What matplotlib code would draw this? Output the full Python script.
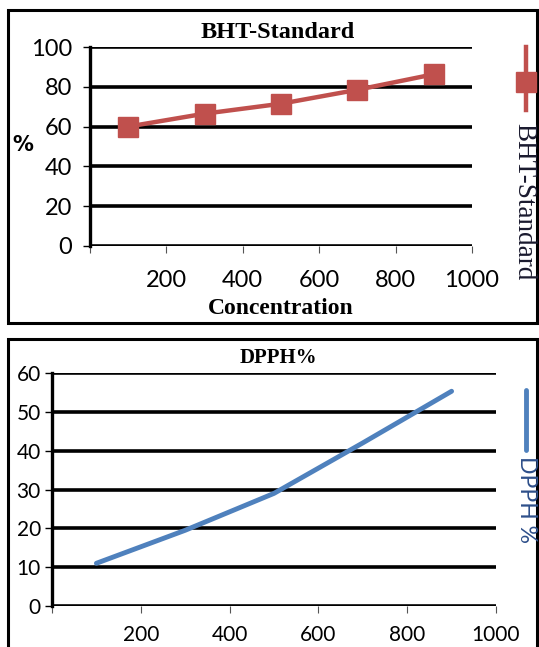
import matplotlib
matplotlib.use('agg')
import matplotlib.pyplot as plt
from matplotlib.lines import Line2D
from matplotlib.patches import Rectangle

# data
conc = [100, 300, 500, 700, 900]
bht = [60, 66.5, 71.5, 78.5, 86.3]
dpph = [11, 19.5, 29, 42, 55.3]

top_yticks = [0, 20, 40, 60, 80, 100]
bot_yticks = [0, 10, 20, 30, 40, 50, 60]
xticks = [0, 200, 400, 600, 800, 1000]
xticklabels = ['', '200', '400', '600', '800', '1000']

red = '#C0504D'
blue = '#4F81BD'
W, H = 539, 647

fig = plt.figure(figsize=(W / 100, H / 100), dpi=100)


def fx(px):
    return px / W


def fy(py):
    return 1 - py / H


def style_axes(ax, yticks, ylim, fs, xpad, ypad):
    ax.set_xlim(0, 1000)
    ax.set_ylim(*ylim)
    ax.set_yticks(yticks)
    ax.set_xticks(xticks)
    ax.set_xticklabels(xticklabels)
    for s in ['top', 'right', 'bottom']:
        ax.spines[s].set_visible(False)
    ax.spines['left'].set_linewidth(2.4)
    ax.grid(axis='y', color='black', linewidth=2.6)
    ax.set_axisbelow(True)
    ax.tick_params(axis='y', length=5, width=1, pad=ypad, labelsize=fs)
    ax.tick_params(axis='x', length=5, width=0.8, color='#555555', labelsize=fs, pad=xpad)
    for lab in ax.get_xticklabels() + ax.get_yticklabels():
        lab.set_family('Lato')


# frames round each chart
fig.add_artist(Rectangle((fx(8), fy(323)), fx(529), fy(10) - fy(323), transform=fig.transFigure,
                         fill=False, edgecolor='black', linewidth=2.2, zorder=0))
fig.add_artist(Rectangle((fx(8), fy(660)), fx(529), fy(339) - fy(660), transform=fig.transFigure,
                         fill=False, edgecolor='black', linewidth=2.2, clip_on=False, zorder=0))

# top chart: BHT-Standard
ax1 = fig.add_axes([fx(90), fy(246), fx(472 - 90), fy(47) - fy(246)])
style_axes(ax1, top_yticks, (0, 100), 17, 12, 8)
ax1.plot(conc, bht, color=red, linewidth=3.2, marker='s', markersize=15, clip_on=False, zorder=3)
ax1.set_xlabel('Concentration', family='Liberation Serif', fontweight='bold', fontsize=17, labelpad=5)
fig.text(fx(23), fy(145), '%', family='DejaVu Sans', fontweight='bold', fontsize=15,
         ha='center', va='center')
fig.text(fx(278), fy(32), 'BHT-Standard', family='Liberation Serif', fontweight='bold',
         fontsize=17.5, ha='center', va='center')
fig.add_artist(Line2D([fx(526), fx(526)], [fy(47), fy(110)], color=red, linewidth=3.2,
                      transform=fig.transFigure))
fig.add_artist(Line2D([fx(526)], [fy(82)], color=red, marker='s', markersize=15, linestyle='none',
                      transform=fig.transFigure))
fig.text(fx(524), fy(202), 'BHT-Standard', family='Liberation Serif', fontsize=19.5,
         rotation=270, ha='center', va='center', color='#1a1a2e', zorder=5)

# bottom chart: DPPH%
ax2 = fig.add_axes([fx(52), fy(606), fx(496 - 52), fy(373) - fy(606)])
style_axes(ax2, bot_yticks, (0, 60), 15, 9, 3)
ax2.plot(conc, dpph, color=blue, linewidth=3.5, solid_capstyle='round', zorder=3)
fig.text(fx(278), fy(358), 'DPPH%', family='Liberation Serif', fontweight='bold',
         fontsize=15, ha='center', va='center')
fig.add_artist(Line2D([fx(526), fx(526)], [fy(390), fy(450)], color=blue, linewidth=3.5,
                      solid_capstyle='round', transform=fig.transFigure))
fig.text(fx(526), fy(500), 'DPPH %', family='Lato', fontsize=16.5,
         rotation=270, ha='center', va='center', color='#2E4F8A')

fig.savefig('out.png', dpi=100)
